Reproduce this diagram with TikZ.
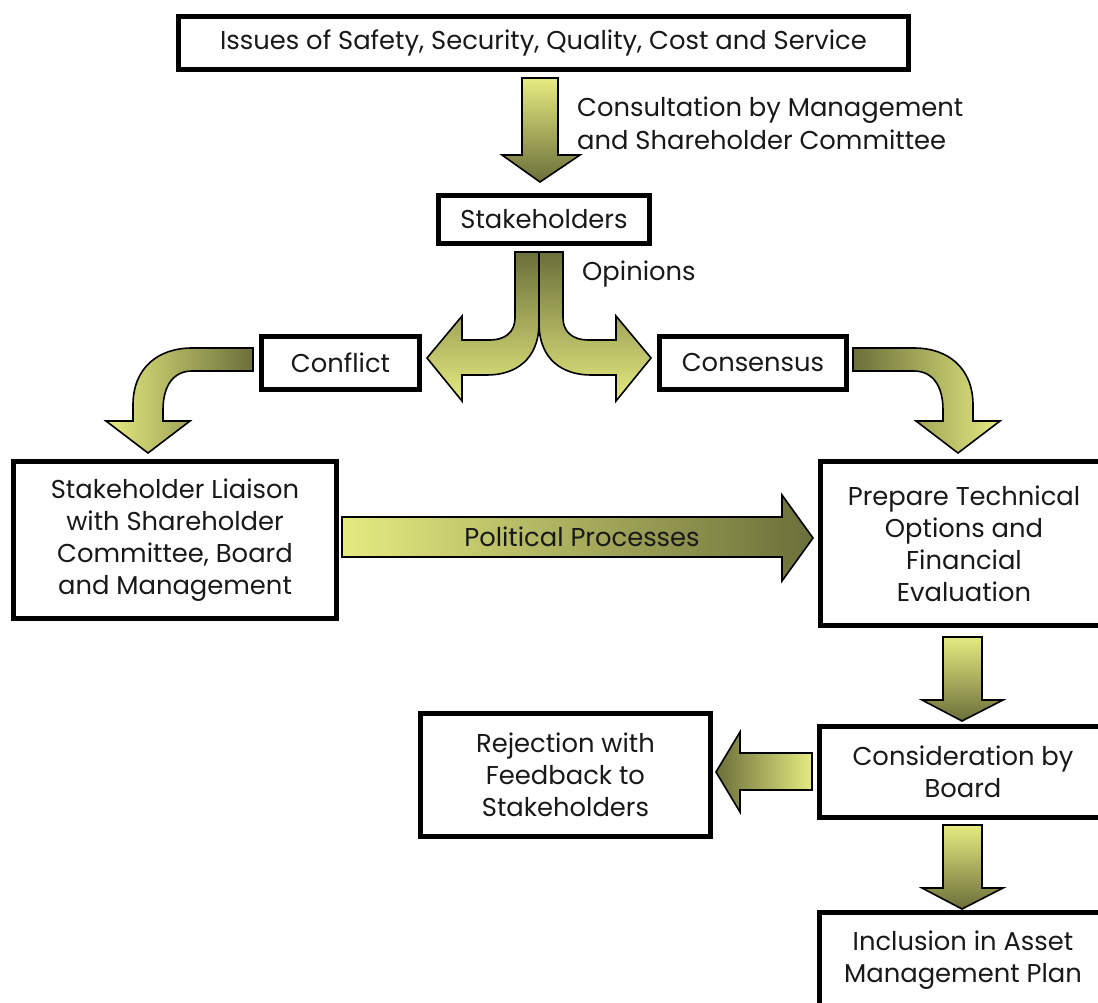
\documentclass[tikz,border=0pt]{standalone}
\usepackage{fontspec}
\setmainfont{Poppins}
\definecolor{yl}{RGB}{229,235,128}
\definecolor{dk}{RGB}{107,111,58}
\definecolor{tx}{RGB}{25,25,25}
\tikzset{
  box/.style={draw=black, line width=5pt, fill=white, align=center, text=tx,
    font=\fontsize{25.8}{32}\selectfont, inner sep=0pt},
  lbl/.style={align=left, text=tx, font=\fontsize{25.8}{33}\selectfont, inner sep=0pt},
  barrow/.style={draw=black, line width=1.6pt, line join=miter},
}
\begin{document}
\begin{tikzpicture}[x=1pt,y=-1pt]
\useasboundingbox[fill=white] (0,0) rectangle (1098,1002);

% boxes
\node[box, minimum width=730pt, minimum height=53pt] (issues) at (543.5,43) {Issues of Safety, Security, Quality, Cost and Service};
\node[box, minimum width=211pt, minimum height=48pt] (stake) at (544,219.5) {Stakeholders};
\node[box, minimum width=158pt, minimum height=53pt] (conflict) at (340.5,363) {Conflict};
\node[box, minimum width=187pt, minimum height=53pt] (consensus) at (753,363) {Consensus};
\node[box, minimum width=323pt, minimum height=157pt] (liaison) at (175,540) {Stakeholder Liaison\\with Shareholder\\Committee, Board\\and Management};
\node[box, minimum width=287pt, minimum height=164pt] (prepare) at (964,543.5) {Prepare Technical\\Options and\\Financial\\Evaluation};
\node[box, minimum width=287pt, minimum height=91pt] (board) at (963,772) {Consideration by\\Board};
\node[box, minimum width=290pt, minimum height=123pt] (reject) at (565.5,775) {Rejection with\\Feedback to\\Stakeholders};
\node[box, minimum width=287pt, minimum height=95pt] (incl) at (963,960) {Inclusion in Asset\\Management Plan};

% labels
\node[lbl, anchor=west] (consult) at (577,123) {Consultation by Management\\and Shareholder Committee};
\node[lbl, anchor=west] (opin) at (582,274) {Opinions};

% top down arrow
\path[barrow, top color=yl, bottom color=dk]
  (522,78) -- (558,78) -- (558,155) -- (580,155) -- (540,182) -- (502,155) -- (522,155) -- cycle;

% split arrow left
\path[barrow, top color=dk, bottom color=yl]
  (515,252) -- (539,252) -- (539,323) .. controls (539,360) and (515,375) .. (487,375)
  -- (462,375) -- (462,401) -- (427,358) -- (462,316) -- (462,340) -- (490,340)
  .. controls (505,340) and (515,332) .. (515,318) -- cycle;
% split arrow right
\path[barrow, top color=dk, bottom color=yl]
  (563,252) -- (539,252) -- (539,323) .. controls (539,360) and (563,375) .. (591,375)
  -- (616,375) -- (616,401) -- (651,358) -- (616,316) -- (616,340) -- (588,340)
  .. controls (573,340) and (563,332) .. (563,318) -- cycle;

% conflict curved arrow
\path[barrow, left color=yl, right color=dk]
  (253,348) -- (253,371) -- (192,371) .. controls (174,371) and (163,385) .. (163,410)
  -- (163,421) -- (190,421) -- (148,453) -- (106,421) -- (133,421) -- (133,405)
  .. controls (133,368) and (158,348) .. (192,348) -- cycle;
% consensus curved arrow
\path[barrow, left color=dk, right color=yl]
  (853,348) -- (853,371) -- (914,371) .. controls (932,371) and (943,385) .. (943,410)
  -- (943,421) -- (916,421) -- (958,453) -- (1000,421) -- (973,421) -- (973,405)
  .. controls (973,368) and (948,348) .. (914,348) -- cycle;

% political processes arrow
\path[barrow, left color=yl, right color=dk]
  (342,517) -- (782,517) -- (782,495) -- (813,538) -- (782,581) -- (782,557) -- (342,557) -- cycle;
\node[lbl, anchor=center] (pol) at (582,537) {Political Processes};

% prepare -> board
\path[barrow, top color=yl, bottom color=dk]
  (943,637) -- (982,637) -- (982,700) -- (1003,700) -- (962,721) -- (922,700) -- (943,700) -- cycle;
% board -> inclusion
\path[barrow, top color=yl, bottom color=dk]
  (943,825) -- (982,825) -- (982,888) -- (1003,888) -- (962,909) -- (922,888) -- (943,888) -- cycle;
% board -> reject
\path[barrow, left color=dk, right color=yl]
  (812,753) -- (812,790) -- (740,790) -- (740,812) -- (716,772) -- (740,732) -- (740,753) -- cycle;
\end{tikzpicture}
\end{document}
